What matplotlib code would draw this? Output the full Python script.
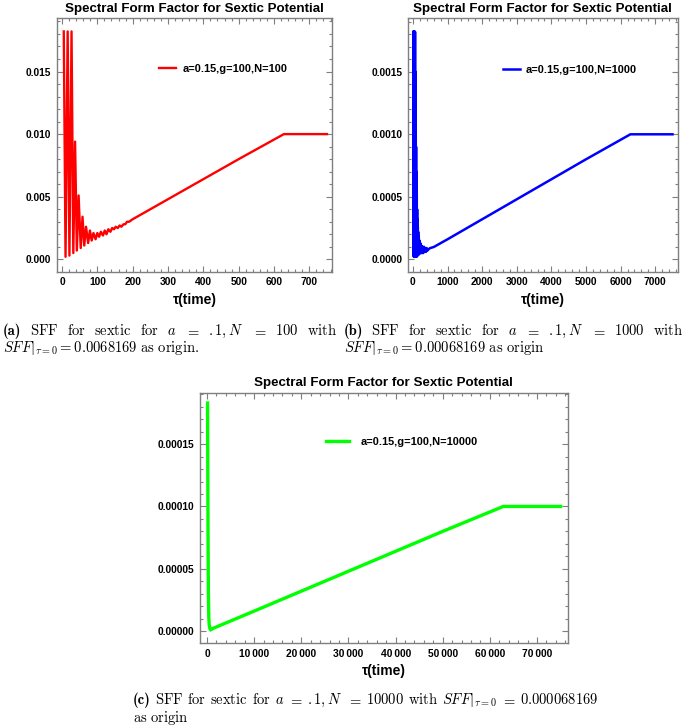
import matplotlib
matplotlib.use('Agg')
import matplotlib.pyplot as plt
from matplotlib.ticker import MultipleLocator, FixedLocator, FixedFormatter

plt.rcParams['font.family'] = ['Liberation Sans', 'DejaVu Sans']
plt.rcParams['mathtext.fontset'] = 'cm'

# ---------------- data ----------------
title = "Spectral Form Factor for Sextic Potential"
xlabel = "\u03c4(time)"

# (a) N = 100
tau_a = [5, 10, 16, 21, 27, 32, 37, 42, 47, 53, 58, 63, 68, 74, 79, 84, 89, 95,
         100, 105, 110, 116, 121, 126, 131, 137, 142, 147, 152, 158, 163, 168,
         174, 179, 184, 190, 195, 200, 250, 300, 400, 500, 628, 750]
sff_a = [0.0182, 0.0002, 0.0182, 0.0003, 0.0182, 0.0005, 0.0094, 0.0007, 0.0051,
         0.0009, 0.0034, 0.0011, 0.0026, 0.0013, 0.0023, 0.0015, 0.0021, 0.0016,
         0.0021, 0.0018, 0.0022, 0.0019, 0.0023, 0.0020, 0.0024, 0.0022, 0.0025,
         0.0024, 0.0026, 0.0025, 0.0027, 0.0026, 0.0028, 0.0028, 0.0030, 0.0030,
         0.0031, 0.0032, 0.0040, 0.0048, 0.0064, 0.0080, 0.0100, 0.0100]
label_a = "a=0.15,g=100,N=100"
yticks_a = [0.000, 0.005, 0.010, 0.015]
yticklabels_a = ["0.000", "0.005", "0.010", "0.015"]
xticks_a = [0, 100, 200, 300, 400, 500, 600, 700]
xticklabels_a = ["0", "100", "200", "300", "400", "500", "600", "700"]

# (b) N = 1000
tau_b = [12, 17, 22, 27, 32, 37, 42, 47, 52, 57, 62, 67, 72, 77, 82, 87, 92, 97,
         102, 107, 112, 117, 122, 127, 132, 137, 142, 147, 152, 160, 170, 180,
         190, 200, 215, 230, 245, 260, 280, 300, 320, 340, 360, 380, 400, 420,
         450, 500, 600, 1000, 2000, 3000, 4000, 5000, 6283, 7500]
sff_b = [0.00182, 0.00080, 0.00182, 0.00002, 0.00182, 0.00002, 0.00182, 0.00002,
         0.00182, 0.00002, 0.00182, 0.00002, 0.00150, 0.00002, 0.00120, 0.00002,
         0.00090, 0.00002, 0.00070, 0.00002, 0.00052, 0.00003, 0.00040, 0.00003,
         0.00032, 0.00003, 0.00026, 0.00004, 0.00022, 0.00004, 0.00018, 0.00004,
         0.00015, 0.00005, 0.00013, 0.00005, 0.00011, 0.00005, 0.00010, 0.00005,
         0.00010, 0.00006, 0.00009, 0.00006, 0.00009, 0.00007, 0.00008, 0.00009,
         0.000098, 0.00016, 0.00032, 0.00048, 0.00064, 0.00080, 0.00100, 0.00100]
label_b = "a=0.15,g=100,N=1000"
yticks_b = [0.0000, 0.0005, 0.0010, 0.0015]
yticklabels_b = ["0.0000", "0.0005", "0.0010", "0.0015"]
xticks_b = [0, 1000, 2000, 3000, 4000, 5000, 6000, 7000]
xticklabels_b = ["0", "1000", "2000", "3000", "4000", "5000", "6000", "7000"]

# (c) N = 10000
tau_c = [100, 200, 280, 360, 450, 600, 760, 1000, 1500, 10000, 30000, 50000, 62832, 75000]
sff_c = [0.000183, 0.00008, 0.00003, 0.000012, 0.000005, 0.000002, 0.0000008,
         0.0000015, 0.0000025, 0.000016, 0.000048, 0.00008, 0.00010, 0.00010]
label_c = "a=0.15,g=100,N=10000"
yticks_c = [0.00000, 0.00005, 0.00010, 0.00015]
yticklabels_c = ["0.00000", "0.00005", "0.00010", "0.00015"]
xticks_c = [0, 10000, 20000, 30000, 40000, 50000, 60000, 70000]
xticklabels_c = ["0", "10\u2009000", "20\u2009000", "30\u2009000", "40\u2009000",
                 "50\u2009000", "60\u2009000", "70\u2009000"]

# ---------------- figure ----------------
W, H = 685, 726
fig = plt.figure(figsize=(W / 100, H / 100), dpi=100)


def px_axes(l, t, r, b):
    return fig.add_axes([l / W, 1 - b / H, (r - l) / W, (b - t) / H])


FRAME = '#7f7f7f'


def style(ax, xt, xtl, xminor, yt, ytl, yminor):
    ax.xaxis.set_major_locator(FixedLocator(xt))
    ax.xaxis.set_major_formatter(FixedFormatter(xtl))
    ax.yaxis.set_major_locator(FixedLocator(yt))
    ax.yaxis.set_major_formatter(FixedFormatter(ytl))
    ax.xaxis.set_minor_locator(MultipleLocator(xminor))
    ax.yaxis.set_minor_locator(MultipleLocator(yminor))
    ax.tick_params(which='both', direction='in', top=True, right=True,
                   color=FRAME, width=0.8)
    ax.tick_params(which='major', length=4, labelsize=7.4, pad=4)
    ax.tick_params(which='minor', length=2.2)
    for lab in ax.get_xticklabels() + ax.get_yticklabels():
        lab.set_fontweight('bold')
    for s in ax.spines.values():
        s.set_color(FRAME)
        s.set_linewidth(1.0)
    ax.set_title(title, fontsize=9.6, fontweight='bold', pad=4.5)
    ax.set_xlabel(xlabel, fontsize=10, fontweight='bold', labelpad=4)


LEG = {'weight': 'bold', 'size': 7.9}

# (a)
ax_a = px_axes(56.7, 18.3, 332.3, 271.7)
ax_a.plot(tau_a, sff_a, color='#ff0000', lw=1.7, label=label_a)
ax_a.set_xlim(-15, 765)
ax_a.set_ylim(-0.00099, 0.01925)
style(ax_a, xticks_a, xticklabels_a, 20, yticks_a, yticklabels_a, 0.001)
ax_a.legend(loc='center left', bbox_to_anchor=(0.371, 0.80), frameon=False,
            borderpad=0, borderaxespad=0, handlelength=1.55, handletextpad=0.6,
            prop=LEG)

# (b)
ax_b = px_axes(407.7, 18.3, 677.7, 271.7)
ax_b.plot(tau_b, sff_b, color='#0000ff', lw=1.8, label=label_b)
ax_b.set_xlim(-150, 7650)
ax_b.set_ylim(-0.0000992, 0.001928)
style(ax_b, xticks_b, xticklabels_b, 200, yticks_b, yticklabels_b, 0.0001)
ax_b.legend(loc='center left', bbox_to_anchor=(0.353, 0.796), frameon=False,
            borderpad=0, borderaxespad=0, handlelength=1.55, handletextpad=0.5,
            prop=LEG)

# (c)
ax_c = px_axes(200, 392.7, 567.7, 643)
ax_c.plot(tau_c, sff_c, color='#00ff00', lw=2.4, label=label_c)
ax_c.set_xlim(-1500, 76500)
ax_c.set_ylim(-0.00000963, 0.0001913)
style(ax_c, xticks_c, xticklabels_c, 2000, yticks_c, yticklabels_c, 0.00001)
ax_c.legend(loc='center left', bbox_to_anchor=(0.342, 0.804), frameon=False,
            borderpad=0, borderaxespad=0, handlelength=2.1, handletextpad=1.1,
            prop=LEG)

# ---------------- captions ----------------
CAP = 10.5
renderer = fig.canvas.get_renderer()


def place_line(tokens, x0, x1, y, justify=True):
    texts = []
    for tok in tokens:
        if isinstance(tok, tuple):
            s, fam = tok
            t = fig.text(0, 1 - y / H, s, fontsize=CAP, va='baseline', ha='left',
                         family=fam)
        else:
            t = fig.text(0, 1 - y / H, tok, fontsize=CAP, va='baseline', ha='left')
        texts.append(t)
    widths = [t.get_window_extent(renderer).width for t in texts]
    if justify and len(tokens) > 1:
        gap = (x1 - x0 - sum(widths)) / (len(tokens) - 1)
    else:
        gap = 4.0
    x = x0
    for t, w in zip(texts, widths):
        t.set_x(x / W)
        x += w + gap


BOLD = 'cmb10'
cap_a1 = [('(a)', BOLD), r'$\mathrm{SFF}$', r'$\mathrm{for}$', r'$\mathrm{sextic}$',
          r'$\mathrm{for}$', r'$a$', r'$=$', r'$.1,N$', r'$=$', r'$100$', r'$\mathrm{with}$']
cap_a2 = [r'$SFF|_{\tau=0} = 0.0068169\ \mathrm{as\ origin.}$']
cap_b1 = [('(b)', BOLD), r'$\mathrm{SFF}$', r'$\mathrm{for}$', r'$\mathrm{sextic}$',
          r'$\mathrm{for}$', r'$a$', r'$=$', r'$.1,N$', r'$=$', r'$1000$', r'$\mathrm{with}$']
cap_b2 = [r'$SFF|_{\tau=0} = 0.00068169\ \mathrm{as\ origin}$']
cap_c1 = [('(c)', BOLD), r'$\mathrm{SFF}$', r'$\mathrm{for}$', r'$\mathrm{sextic}$',
          r'$\mathrm{for}$', r'$a$', r'$=$', r'$.1,N$', r'$=$', r'$10000$', r'$\mathrm{with}$',
          r'$SFF|_{\tau=0}$', r'$=$', r'$0.000068169$']
cap_c2 = [r'$\mathrm{as\ origin}$']

place_line(cap_a1, 3, 337, 335)
place_line(cap_a2, 3, 337, 352, justify=False)
place_line(cap_b1, 344, 683, 335)
place_line(cap_b2, 344, 683, 352, justify=False)
place_line(cap_c1, 133, 598, 704)
place_line(cap_c2, 133, 598, 722, justify=False)

fig.savefig('out.png', dpi=100)
